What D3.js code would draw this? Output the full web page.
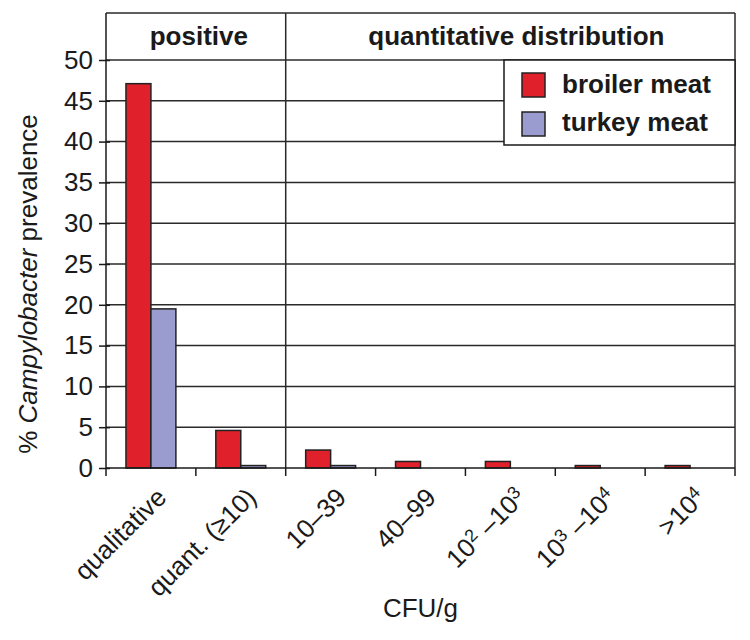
<!DOCTYPE html>
<html>
<head>
<meta charset="utf-8">
<script src="https://cdn.jsdelivr.net/npm/d3@7"></script>
<style>
  html, body { margin: 0; padding: 0; background: #fff; }
  svg { display: block; font-family: "Liberation Sans", Arial, sans-serif; }
</style>
</head>
<body>
<svg id="chart" width="750" height="640"></svg>
<script>
// ---- data ----
const categories = ["qualitative", "quant. (\u226510)", "10\u201339", "40\u201399", "10^2 \u201310^3", "10^3 \u201310^4", ">10^4"];
const seriesNames = ["broiler meat", "turkey meat"];
const broilerValues = [47.1, 4.6, 2.2, 0.8, 0.8, 0.3, 0.3];
const turkeyValues = [19.5, 0.3, 0.3, 0, 0, 0, 0];
const yTicks = [0, 5, 10, 15, 20, 25, 30, 35, 40, 45, 50];
const headerLabels = ["positive", "quantitative distribution"];
const headerSpans = [[0, 2], [2, 7]];

const colors = { "broiler meat": "#e0212b", "turkey meat": "#9a9ccf" };
const stroke = "#222";
const FS = 26;

const svg = d3.select("#chart");
const pLeft = 106, pRight = 735, pTop = 13, pBottom = 468;

const x = d3.scaleBand().domain(categories).range([pLeft, pRight]).paddingInner(0).paddingOuter(0);
const xs = d3.scaleBand().domain(seriesNames).range([0, x.bandwidth()]).paddingInner(0).paddingOuter(0.8);
const y = d3.scaleLinear().domain([0, 50]).range([pBottom, 60]);

// gridlines
svg.append("g").selectAll("line").data(yTicks.filter(d => d > 0)).join("line")
  .attr("x1", pLeft).attr("x2", pRight)
  .attr("y1", d => y(d)).attr("y2", d => y(d))
  .attr("stroke", "#2a2a2a").attr("stroke-width", 1.5);

// header frame
svg.append("line").attr("x1", pLeft).attr("x2", pRight).attr("y1", pTop).attr("y2", pTop)
  .attr("stroke", "#2a2a2a").attr("stroke-width", 1.5);
svg.append("line").attr("x1", pRight).attr("x2", pRight).attr("y1", pTop).attr("y2", pBottom)
  .attr("stroke", "#2a2a2a").attr("stroke-width", 1.5);
// divider
svg.append("line").attr("x1", x(categories[2])).attr("x2", x(categories[2])).attr("y1", pTop).attr("y2", pBottom)
  .attr("stroke", "#2a2a2a").attr("stroke-width", 1.5);

// header labels
svg.append("g").selectAll("text").data(headerLabels).join("text")
  .attr("x", (d, i) => {
    const s = headerSpans[i];
    const x0 = x(categories[s[0]]);
    const x1 = s[1] >= categories.length ? pRight : x(categories[s[1]]);
    return (x0 + x1) / 2 + (i === 1 ? 6 : 3);
  })
  .attr("y", 45)
  .attr("text-anchor", "middle")
  .attr("font-size", FS).attr("font-weight", "bold").attr("fill", "#1a1a1a")
  .text(d => d);

// bars
const seriesData = [broilerValues, turkeyValues];
const gBars = svg.append("g");
seriesNames.forEach((name, si) => {
  gBars.append("g").selectAll("rect").data(seriesData[si].map((v, i) => ({ c: categories[i], v })).filter(d => d.v > 0))
    .join("rect")
    .attr("x", d => x(d.c) + xs(name))
    .attr("width", xs.bandwidth())
    .attr("y", d => y(d.v))
    .attr("height", d => y(0) - y(d.v))
    .attr("fill", colors[name])
    .attr("stroke", stroke).attr("stroke-width", 1.5);
});

// y axis
const yAxis = d3.axisLeft(y).tickValues(yTicks).tickSize(7).tickPadding(6);
const gy = svg.append("g").attr("transform", `translate(${pLeft},0)`).call(yAxis);
gy.select(".domain").attr("stroke", "#1a1a1a").attr("stroke-width", 1.5).attr("d", `M0,${pTop}V${pBottom}`);
gy.selectAll(".tick line").attr("stroke", "#1a1a1a").attr("stroke-width", 1.5).attr("x1", 4);
gy.selectAll(".tick text").attr("font-size", FS).attr("fill", "#1a1a1a").attr("font-family", "Liberation Sans, Arial, sans-serif");

// x axis
const xTickPositions = categories.map(c => x(c)).concat([pRight]);
const gx = svg.append("g");
gx.append("line").attr("x1", pLeft).attr("x2", pRight).attr("y1", pBottom).attr("y2", pBottom)
  .attr("stroke", "#1a1a1a").attr("stroke-width", 1.5);
gx.selectAll("line.t").data(xTickPositions).join("line").attr("class", "t")
  .attr("x1", d => d).attr("x2", d => d).attr("y1", pBottom).attr("y2", pBottom + 8)
  .attr("stroke", "#1a1a1a").attr("stroke-width", 1.5);

// x labels with superscripts
const lbl = gx.selectAll("text.xl").data(categories).join("text").attr("class", "xl")
  .attr("text-anchor", "end")
  .attr("font-size", FS).attr("fill", "#1a1a1a")
  .attr("transform", d => `translate(${x(d) + x.bandwidth() / 2 + 17},${pBottom + 31}) rotate(-45)`);
lbl.each(function(d) {
  const t = d3.select(this);
  const parts = d.split(/(\^\d)/).filter(p => p.length);
  parts.forEach(p => {
    if (p[0] === "^") {
      t.append("tspan").attr("baseline-shift", "45%").attr("font-size", 18).text(p.slice(1));
    } else {
      t.append("tspan").text(p);
    }
  });
});

// axis titles
svg.append("text").attr("x", (pLeft + pRight) / 2).attr("y", 617).attr("text-anchor", "middle")
  .attr("font-size", FS).attr("fill", "#1a1a1a").text("CFU/g");

const yt = svg.append("text").attr("transform", `translate(37,284) rotate(-90)`)
  .attr("text-anchor", "middle").attr("font-size", FS).attr("fill", "#1a1a1a");
yt.append("tspan").text("% ");
yt.append("tspan").attr("font-style", "italic").text("Campylobacter");
yt.append("tspan").text(" prevalence");

// legend
const lg = svg.append("g");
lg.append("rect").attr("x", 504).attr("y", 60).attr("width", pRight - 504).attr("height", 85)
  .attr("fill", "#fff").attr("stroke", "#1a1a1a").attr("stroke-width", 1.5);
seriesNames.forEach((name, i) => {
  lg.append("rect").attr("x", 522).attr("y", 73 + i * 39).attr("width", 23).attr("height", 24)
    .attr("fill", colors[name]).attr("stroke", stroke).attr("stroke-width", 1.5);
  lg.append("text").attr("x", 562).attr("y", 93 + i * 38)
    .attr("font-size", FS).attr("font-weight", "bold").attr("fill", "#1a1a1a").text(name);
});
</script>
</body>
</html>
